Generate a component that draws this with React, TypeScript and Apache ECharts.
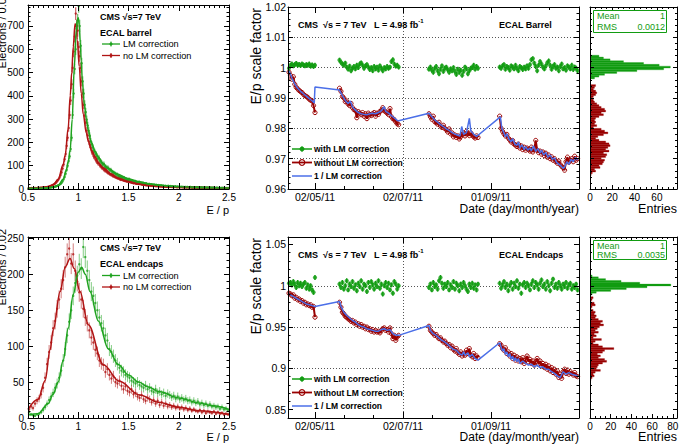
import React, { useEffect, useRef } from "react";
import * as echarts from "echarts";

const FONT = "'Liberation Sans', Arial, Helvetica, sans-serif";
const GREEN = "#129c12";
const RED = "#990000";
const BLUE = "#4b6fe8";
const EP_GREEN = "#1fa31f";
const EP_RED = "#b01414";

// ---------------- E/p distributions (electrons per bin) ----------------
const epLow = 0.5;
const barrelBinWidth = 0.01;
const endcapBinWidth = 0.02;

const barrelWithLM = [
  2, 3, 2, 2, 3, 3, 2, 3, 3, 4,
  3, 3, 4, 3, 4, 4, 5, 4, 5, 5,
  5, 6, 6, 7, 8, 8, 9, 11, 12, 14,
  16, 19, 22, 27, 33, 42, 52, 66, 82, 100,
  120, 140, 172, 220, 318, 410, 515, 600, 690, 725,
  785, 700, 615, 540, 462, 410, 362, 330, 298, 272,
  250, 228, 205, 192, 178, 165, 160, 150, 142, 130,
  135, 122, 118, 112, 104, 108, 96, 95, 90, 92,
  86, 80, 82, 75, 72, 70, 68, 62, 64, 58,
  56, 54, 52, 50, 48, 49, 45, 44, 42, 40,
  43, 38, 36, 37, 34, 33, 34, 31, 30, 29,
  31, 28, 27, 26, 27, 24, 23, 25, 22, 21,
  22, 20, 21, 19, 18, 19, 17, 18, 16, 17,
  16, 15, 16, 14, 15, 13, 14, 13, 12, 14,
  12, 13, 11, 12, 11, 10, 12, 10, 11, 10,
  10, 9, 10, 9, 9, 8, 9, 8, 9, 8,
  8, 9, 7, 8, 7, 8, 7, 7, 8, 6,
  7, 6, 7, 6, 6, 7, 5, 6, 6, 5,
  6, 5, 5, 6, 5, 5, 4, 5, 5, 4,
  5, 4, 4, 5, 4, 4, 4, 3, 4, 4,
];
const barrelNoLM = [
  3, 2, 3, 4, 3, 3, 4, 4, 3, 5,
  4, 5, 5, 6, 5, 7, 6, 8, 7, 9,
  10, 11, 13, 14, 17, 19, 22, 26, 30, 36,
  42, 50, 60, 72, 88, 105, 128, 150, 185, 220,
  262, 318, 380, 450, 520, 590, 655, 753, 700, 680,
  610, 570, 520, 462, 410, 362, 315, 285, 250, 230,
  205, 190, 176, 160, 152, 140, 135, 125, 118, 112,
  110, 102, 98, 92, 90, 84, 80, 78, 74, 70,
  68, 64, 62, 60, 56, 55, 52, 50, 48, 46,
  45, 42, 40, 41, 38, 36, 35, 34, 32, 33,
  30, 31, 28, 27, 26, 25, 26, 23, 22, 22,
  21, 22, 20, 19, 18, 19, 17, 16, 17, 15,
  16, 15, 14, 15, 13, 14, 13, 12, 13, 12,
  12, 11, 12, 10, 11, 10, 11, 10, 9, 10,
  9, 10, 9, 8, 9, 8, 9, 8, 7, 8,
  8, 7, 8, 7, 7, 6, 7, 6, 7, 6,
  6, 7, 6, 5, 6, 6, 5, 6, 5, 5,
  5, 6, 5, 5, 4, 5, 5, 4, 5, 4,
  4, 5, 4, 4, 5, 4, 3, 4, 4, 3,
  4, 3, 4, 3, 4, 3, 3, 4, 3, 3,
];
const barrelWithLMFit = [
  [0.5, 2], [0.6, 3], [0.7, 5], [0.75, 8], [0.8, 16], [0.85, 42], [0.88, 80], [0.9, 118],
  [0.92, 170], [0.94, 300], [0.96, 520], [0.98, 680], [0.99, 725], [1.0, 735], [1.01, 705],
  [1.02, 630], [1.03, 550], [1.04, 468], [1.06, 365], [1.08, 300], [1.1, 252], [1.13, 200],
  [1.17, 162], [1.2, 136], [1.25, 108], [1.3, 88], [1.38, 66], [1.5, 44], [1.6, 31],
  [1.7, 22], [1.8, 16], [1.9, 12], [2.0, 10], [2.2, 7], [2.5, 4],
];
const barrelNoLMFit = [
  [0.5, 3], [0.6, 5], [0.7, 10], [0.75, 18], [0.8, 42], [0.85, 105], [0.87, 145], [0.9, 262],
  [0.92, 400], [0.935, 500], [0.95, 610], [0.968, 710], [0.98, 695], [0.99, 640], [1.01, 525],
  [1.03, 410], [1.05, 320], [1.08, 240], [1.1, 205], [1.134, 165], [1.17, 138], [1.2, 112],
  [1.25, 90], [1.33, 64], [1.4, 46], [1.5, 32], [1.6, 22], [1.7, 15], [1.8, 11], [1.9, 9],
  [2.0, 8], [2.2, 6], [2.5, 4],
];

const endcapWithLM = [
  8, 5, 4, 3, 5, 6, 8, 11, 15, 20,
  25, 30, 35, 42, 48, 56, 66, 80, 96, 115,
  134, 150, 170, 188, 198, 214, 208, 238, 224, 205,
  192, 176, 170, 160, 150, 140, 132, 125, 115, 108,
  96, 92, 86, 80, 75, 70, 66, 64, 60, 58,
  56, 52, 50, 48, 50, 46, 44, 42, 45, 40,
  42, 38, 36, 40, 35, 37, 33, 35, 31, 34,
  32, 29, 31, 27, 30, 26, 28, 25, 27, 24,
  25, 22, 24, 21, 23, 19, 21, 18, 20, 17,
  19, 16, 17, 15, 16, 13, 15, 12, 13, 11,
];
const endcapNoLM = [
  12, 16, 14, 20, 24, 27, 33, 42, 56, 75,
  92, 105, 125, 135, 152, 165, 180, 192, 210, 228,
  236, 215, 228, 205, 190, 175, 165, 152, 140, 132,
  122, 112, 105, 95, 90, 80, 76, 74, 64, 68,
  60, 55, 58, 50, 48, 52, 45, 40, 44, 38,
  36, 40, 33, 35, 30, 28, 32, 26, 24, 28,
  26, 22, 25, 20, 24, 18, 22, 17, 20, 16,
  18, 15, 17, 14, 16, 13, 15, 12, 14, 11,
  13, 10, 12, 10, 9, 11, 8, 10, 7, 9,
  8, 7, 9, 6, 8, 6, 7, 5, 6, 5,
];
const endcapWithLMFit = [
  [0.5, 4], [0.6, 6], [0.7, 20], [0.75, 33], [0.8, 50], [0.85, 80], [0.9, 125], [0.95, 172],
  [1.0, 203], [1.034, 210], [1.07, 200], [1.117, 176], [1.2, 135], [1.3, 96], [1.4, 74],
  [1.5, 60], [1.6, 50], [1.7, 43], [1.8, 37], [2.0, 28], [2.2, 21], [2.34, 17], [2.5, 12],
];
const endcapNoLMFit = [
  [0.5, 12], [0.6, 26], [0.67, 52], [0.72, 95], [0.75, 122], [0.82, 176], [0.87, 210],
  [0.918, 222], [0.96, 208], [1.017, 176], [1.1, 130], [1.25, 74], [1.41, 51], [1.61, 32],
  [1.8, 22], [2.0, 15], [2.2, 10], [2.5, 5],
];

// ---------------- E/p scale versus time (day of year 2011, one value per day) ----------------
const periodStartDays = [104, 139, 201, 250];

const barrelScaleNoLM = [
  [0.9985, 0.9975, 0.9962, 0.9970, 0.9945, 0.9935, 0.9930, 0.9925, 0.9921, 0.9918, 0.9912, 0.9908, 0.9905,
    0.9902, 0.9896, 0.9893, 0.9890, 0.9875, 0.9852],
  [0.9932, 0.9922, 0.9905, 0.9900, 0.9888, 0.9890, 0.9880, 0.9875, 0.9882, 0.9868, 0.9862, 0.9858, 0.9835,
    0.9855, 0.9850, 0.9845, 0.9852, 0.9840, 0.9848, 0.9832, 0.9850, 0.9845, 0.9842, 0.9848, 0.9852, 0.9840,
    0.9850, 0.9846, 0.9855, 0.9860, 0.9868, 0.9858, 0.9855, 0.9850, 0.9845, 0.9865, 0.9838, 0.9832, 0.9828,
    0.9822, 0.9815, 0.9812],
  [0.9848, 0.9838, 0.9830, 0.9840, 0.9822, 0.9818, 0.9814, 0.9820, 0.9808, 0.9803, 0.9810, 0.9800, 0.9795,
    0.9788, 0.9798, 0.9782, 0.9785, 0.9772, 0.9778, 0.9770, 0.9775, 0.9765, 0.9772, 0.9780, 0.9785, 0.9775,
    0.9790, 0.9782, 0.9776, 0.9785, 0.9778, 0.9772, 0.9768, 0.9775, 0.9770],
  [0.9840, 0.9800, 0.9790, 0.9782, 0.9775, 0.9780, 0.9768, 0.9762, 0.9755, 0.9760, 0.9748, 0.9745, 0.9740,
    0.9748, 0.9735, 0.9742, 0.9730, 0.9738, 0.9728, 0.9735, 0.9730, 0.9725, 0.9738, 0.9722, 0.9730, 0.9760,
    0.9728, 0.9720, 0.9725, 0.9715, 0.9722, 0.9710, 0.9718, 0.9705, 0.9712, 0.9700, 0.9706, 0.9695, 0.9700,
    0.9690, 0.9685, 0.9692, 0.9680, 0.9675, 0.9670, 0.9662, 0.9690, 0.9705, 0.9688, 0.9695, 0.9700, 0.9690,
    0.9708, 0.9695, 0.9700],
];
const barrelScaleLM = [
  [0.9998, 1.0008, 1.0012, 1.0006, 1.0010, 1.0014, 1.0008, 1.0011, 1.0007, 1.0012, 1.0009, 1.0006, 1.0010,
    1.0008, 1.0012, 1.0005, 1.0009, 1.0004, 1.0008],
  [1.0025, 1.0018, 1.0012, 1.0008, 1.0015, 1.0002, 0.9995, 1.0005, 0.9990, 0.9998, 1.0004, 0.9996, 1.0008,
    1.0000, 1.0012, 1.0016, 1.0008, 0.9998, 1.0006, 1.0010, 1.0002, 0.9994, 1.0000, 0.9990, 1.0004, 0.9996,
    1.0002, 0.9992, 1.0006, 0.9998, 0.9990, 1.0000, 0.9996, 1.0004, 0.9998, 1.0002, 1.0020, 1.0026, 1.0012,
    1.0005, 1.0008, 1.0002],
  [0.9995, 1.0002, 0.9992, 0.9985, 0.9998, 1.0004, 0.9990, 0.9980, 0.9995, 1.0006, 0.9988, 0.9998, 1.0002,
    0.9993, 0.9985, 0.9996, 0.9990, 1.0000, 0.9988, 0.9978, 0.9995, 0.9985, 0.9992, 0.9975, 0.9988, 1.0002,
    0.9996, 0.9980, 0.9990, 0.9998, 1.0000, 1.0008, 0.9995, 1.0004, 0.9998],
  [1.0002, 0.9998, 1.0006, 1.0010, 0.9995, 1.0004, 1.0000, 0.9992, 1.0006, 1.0002, 0.9996, 1.0008, 0.9998,
    0.9990, 1.0004, 1.0000, 0.9994, 1.0002, 0.9996, 1.0006, 0.9998, 1.0010, 1.0026, 1.0030, 1.0015, 1.0004,
    0.9990, 1.0008, 1.0020, 1.0012, 1.0002, 0.9996, 1.0006, 1.0016, 1.0022, 1.0008, 0.9995, 1.0004, 1.0010,
    0.9998, 1.0002, 0.9990, 1.0004, 1.0012, 0.9996, 1.0000, 0.9992, 1.0006, 1.0002, 0.9996, 1.0008, 0.9994,
    1.0002, 0.9998, 0.9990],
];
const barrelInvLM = [
  [104, 0.9990], [106, 0.9966], [108, 0.9946], [110, 0.9932], [112, 0.9922], [114, 0.9914], [116, 0.9906],
  [118, 0.9898], [120, 0.9891], [121.5, 0.9884], [122, 0.9936], [139, 0.9926], [141, 0.9908], [143, 0.9892],
  [145, 0.9882], [146.5, 0.9890], [148, 0.9870], [150, 0.9860], [152, 0.9852], [154, 0.9848], [156, 0.9846],
  [158, 0.9845], [160, 0.9848], [162, 0.9850], [164, 0.9848], [166, 0.9852], [168, 0.9858], [170, 0.9871],
  [171, 0.9856], [173, 0.9850], [175, 0.9842], [177, 0.9834], [179, 0.9826], [180, 0.9825], [201, 0.9850],
  [203, 0.9838], [205, 0.9828], [207, 0.9820], [209, 0.9812], [211, 0.9806], [213, 0.9798], [215, 0.9793],
  [217, 0.9786], [219, 0.9781], [221, 0.9777], [222.5, 0.9775], [223.7, 0.9806], [225, 0.9780], [227, 0.9786],
  [229, 0.9833], [230, 0.9792], [232, 0.9780], [234, 0.9773], [250.5, 0.9838], [251.5, 0.9800], [253, 0.9785],
  [254, 0.9772], [255, 0.9782], [256.5, 0.9764], [258, 0.9756], [259, 0.9766], [260.5, 0.9748], [262, 0.9744],
  [263, 0.9755], [264, 0.9736], [265.5, 0.9745], [267, 0.9730], [268, 0.9740], [269.5, 0.9728], [271, 0.9735],
  [272, 0.9726], [273.5, 0.9742], [275, 0.9724], [276.5, 0.9733], [278, 0.9718], [279, 0.9728], [280.5, 0.9712],
  [282, 0.9720], [283.5, 0.9705], [285, 0.9712], [286.5, 0.9698], [288, 0.9703], [289.5, 0.9688], [291, 0.9682],
  [292.5, 0.9676], [294, 0.9668], [295, 0.9672], [296.5, 0.9690], [298, 0.9682], [299.5, 0.9698], [301, 0.9690],
  [302.5, 0.9704], [304, 0.9696],
];

const endcapScaleNoLM = [
  [0.991, 0.990, 0.988, 0.989, 0.985, 0.986, 0.983, 0.984, 0.981, 0.982, 0.979, 0.980, 0.977, 0.978, 0.976,
    0.977, 0.974, 0.975, 0.962],
  [0.980, 0.974, 0.968, 0.966, 0.963, 0.962, 0.960, 0.959, 0.957, 0.958, 0.955, 0.956, 0.953, 0.954, 0.951,
    0.953, 0.950, 0.951, 0.948, 0.950, 0.947, 0.948, 0.945, 0.947, 0.944, 0.946, 0.944, 0.945, 0.943, 0.946,
    0.948, 0.949, 0.946, 0.947, 0.944, 0.949, 0.942, 0.936, 0.940, 0.934, 0.938, 0.940],
  [0.951, 0.946, 0.944, 0.942, 0.940, 0.941, 0.938, 0.936, 0.937, 0.934, 0.932, 0.933, 0.930, 0.928, 0.929,
    0.925, 0.927, 0.923, 0.921, 0.924, 0.919, 0.917, 0.920, 0.915, 0.918, 0.916, 0.922, 0.918, 0.924, 0.916,
    0.914, 0.918, 0.912, 0.915, 0.913],
  [0.930, 0.928, 0.924, 0.922, 0.925, 0.918, 0.920, 0.915, 0.918, 0.912, 0.916, 0.910, 0.914, 0.909, 0.912,
    0.908, 0.913, 0.906, 0.910, 0.915, 0.908, 0.911, 0.906, 0.909, 0.904, 0.908, 0.912, 0.905, 0.909, 0.903,
    0.906, 0.901, 0.905, 0.899, 0.903, 0.897, 0.901, 0.895, 0.899, 0.893, 0.897, 0.889, 0.893, 0.888, 0.896,
    0.899, 0.894, 0.898, 0.893, 0.896, 0.894, 0.892, 0.895, 0.891, 0.890],
];
const endcapScaleLM = [
  [1.003, 1.004, 1.001, 1.005, 1.002, 0.998, 1.004, 1.000, 1.003, 0.999, 1.002, 1.004, 0.997, 1.001, 0.996,
    1.000, 0.995, 0.992, 1.010],
  [1.002, 0.998, 1.004, 0.996, 1.000, 1.006, 0.995, 1.002, 0.999, 1.005, 0.997, 1.001, 0.994, 1.003, 0.999,
    1.006, 0.996, 1.002, 1.000, 0.993, 1.004, 0.998, 1.005, 1.001, 0.996, 1.003, 0.999, 1.006, 0.997, 1.002,
    0.990, 1.000, 1.004, 0.998, 1.003, 0.995, 1.001, 0.991, 1.005, 1.002, 0.996, 1.000],
  [0.998, 1.002, 0.995, 1.004, 0.999, 1.001, 0.996, 1.006, 1.010, 1.003, 0.997, 1.002, 0.999, 1.004, 0.995,
    1.001, 0.998, 1.005, 0.996, 1.003, 1.000, 0.994, 1.002, 0.998, 1.004, 1.000, 0.996, 0.993, 1.002, 0.998,
    1.003, 0.997, 1.001, 0.995, 1.002],
  [1.003, 0.997, 1.001, 1.005, 0.998, 1.002, 0.994, 1.000, 1.004, 0.996, 1.003, 0.999, 1.006, 0.997, 1.002,
    0.991, 1.001, 1.004, 0.998, 1.003, 1.000, 0.995, 1.002, 1.006, 0.998, 1.004, 1.001, 0.996, 1.003, 1.007,
    0.999, 1.002, 0.996, 1.005, 1.000, 0.994, 1.003, 1.008, 0.998, 1.002, 0.997, 1.004, 1.000, 0.996, 1.002,
    0.999, 1.004, 0.997, 1.001, 1.003, 0.996, 1.000, 0.998, 1.002, 0.995],
];
const endcapInvLM = [
  [104, 0.990], [106, 0.988], [108, 0.986], [110, 0.984], [112, 0.982], [114, 0.980], [116, 0.978],
  [118, 0.977], [120, 0.976], [122, 0.975], [139, 0.981], [140, 0.975], [142, 0.968], [144, 0.964],
  [146, 0.961], [148, 0.958], [150, 0.956], [152, 0.953], [154, 0.951], [156, 0.950], [158, 0.948],
  [160, 0.947], [162, 0.946], [164, 0.945], [166, 0.945], [168, 0.947], [170, 0.948], [172, 0.946],
  [174, 0.947], [176, 0.942], [178, 0.940], [180, 0.940], [201, 0.952], [202, 0.946], [204, 0.942],
  [206, 0.940], [208, 0.937], [210, 0.934], [212, 0.932], [214, 0.929], [216, 0.926], [218, 0.923],
  [220, 0.922], [222, 0.918], [224, 0.916], [225, 0.920], [226, 0.916], [228, 0.919], [229, 0.914],
  [231, 0.917], [233, 0.912], [235, 0.910], [250, 0.931], [251, 0.926], [252, 0.921], [253, 0.924],
  [254, 0.917], [255, 0.920], [256, 0.914], [257, 0.918], [258, 0.911], [259, 0.915], [260, 0.909],
  [261, 0.913], [262, 0.908], [263, 0.912], [264, 0.906], [266, 0.909], [268, 0.906], [270, 0.904],
  [272, 0.905], [274, 0.902], [276, 0.904], [278, 0.901], [280, 0.902], [282, 0.899], [284, 0.899],
  [286, 0.896], [288, 0.894], [290, 0.891], [292, 0.889], [294, 0.896], [296, 0.893], [298, 0.895],
  [300, 0.893], [302, 0.892], [304, 0.891],
];
const barrelScaleErr = 0.0008;
const endcapScaleErr = 0.003;

const dateTickDays = [122, 183, 244];
const dateTickLabels = ["02/05/11", "02/07/11", "01/09/11"];
const endcapScaleTicks = [0.85, 0.9, 0.95, 1, 1.05];

// ---------------- projections of the scale factors (entries per bin) ----------------
const barrelProjBinWidth = 0.0006;
const barrelProjLMStart = 0.9963;
const barrelProjLM = [4, 8, 13, 24, 42, 66, 72, 62, 48, 30, 18, 12, 8];
const barrelProjNoLMStart = 0.9644;
const barrelProjNoLM = [
  1, 2, 5, 4, 9, 8, 11, 12, 13, 10, 14, 15, 12, 17, 14, 16, 18, 17, 14, 8, 5, 7, 12, 16, 13,
  10, 3, 6, 4, 5, 4, 5, 8, 12, 10, 14, 13, 10, 8, 6, 4, 3, 2, 3, 5, 6, 5, 3, 4, 5,
];
const endcapProjBinWidth = 0.0022;
const endcapProjLMStart = 0.9888;
const endcapProjLM = [2, 6, 20, 35, 55, 78, 48, 30, 15, 8, 2];
const endcapProjNoLMStart = 0.8855;
const endcapProjNoLM = [
  1, 2, 4, 3, 5, 10, 6, 7, 8, 12, 16, 14, 8, 10, 7, 12, 14, 23, 12, 8, 3, 5, 11, 3,
  6, 4, 8, 5, 7, 9, 13, 10, 12, 8, 5, 6, 4, 5, 3, 1, 2, 5, 4, 1, 2, 3,
];
const statLabels = ["Mean", "RMS"];
const barrelStatValues = ["1", "0.0012"];
const endcapStatValues = ["1", "0.0035"];

// ---------------- helpers ----------------
const fmtNum = (v: number) => String(parseFloat(v.toFixed(6)));

function binPoints(counts: number[], width: number) {
  return counts.map((n, i) => [epLow + (i + 0.5) * width, n]);
}
function binErrors(counts: number[], width: number) {
  return counts
    .map((n, i) => [epLow + (i + 0.5) * width, n - Math.sqrt(n), n + Math.sqrt(n)])
    .filter((d) => d[2] > d[1]);
}
function periodLine(periods: number[][]) {
  const out: any[] = [];
  periods.forEach((vals, k) => {
    vals.forEach((v, j) => out.push([periodStartDays[k] + j, v]));
    if (k < periods.length - 1) out.push([periodStartDays[k] + vals.length, null]);
  });
  return out;
}
function periodPoints(periods: number[][]) {
  return periodLine(periods).filter((d) => d[1] !== null);
}
function projBins(start: number, width: number, counts: number[]) {
  return counts.map((n, i) => [start + i * width, start + (i + 1) * width, n]);
}

function verticalBars(color: string, width: number, opacity: number) {
  return (params: any, api: any) => {
    const a = api.coord([api.value(0), api.value(1)]);
    const b = api.coord([api.value(0), api.value(2)]);
    return {
      type: "line",
      shape: { x1: a[0], y1: a[1], x2: b[0], y2: b[1] },
      style: { stroke: color, lineWidth: width, opacity },
    };
  };
}
function horizontalBins(color: string) {
  return (params: any, api: any) => {
    const top = api.coord([0, api.value(1)]);
    const bottom = api.coord([api.value(2), api.value(0)]);
    return {
      type: "rect",
      shape: { x: top[0], y: top[1], width: bottom[0] - top[0], height: bottom[1] - top[1] },
      style: { fill: color, stroke: color, lineWidth: 0.3 },
    };
  };
}

type AxisCfg = {
  min: number;
  max: number;
  interval?: number;
  minorSplit?: number;
  major?: number[];
  minor?: number[];
  labels?: boolean;
  labelMax?: number;
  labelSize?: number;
  margin?: number;
  formatter?: (v: number) => string;
  grid?: boolean;
  tickLen: number;
  minorLen: number;
};

function buildOption() {
  const xAxes: any[] = [];
  const yAxes: any[] = [];
  const lineStyle = { color: "#000", width: 1 };

  // Frame line + ticks on both sides of a grid, plus one label/grid axis
  const addAxes = (dim: "x" | "y", gridIndex: number, cfg: AxisCfg) => {
    const list = dim === "x" ? xAxes : yAxes;
    const sides = dim === "x" ? ["bottom", "top"] : ["left", "right"];
    const common = {
      type: "value",
      gridIndex,
      min: cfg.min,
      max: cfg.max,
      silent: true,
      axisPointer: { show: false },
      minorSplitLine: { show: false },
    };
    const step = cfg.interval ? { interval: cfg.interval } : {};
    let mainIndex = -1;
    sides.forEach((position, k) => {
      list.push({
        ...common,
        ...step,
        position,
        z: 10,
        axisLine: { show: true, onZero: false, lineStyle },
        axisTick: {
          show: true,
          inside: true,
          length: cfg.tickLen,
          lineStyle,
          ...(cfg.major ? { customValues: cfg.major } : {}),
        },
        minorTick: { show: !!cfg.minorSplit, splitNumber: cfg.minorSplit || 5, length: cfg.minorLen, lineStyle },
        axisLabel: { show: false },
        splitLine: { show: false },
      });
      if (cfg.minor) {
        list.push({
          ...common,
          position,
          z: 10,
          axisLine: { show: false, onZero: false },
          axisTick: { show: true, inside: true, length: cfg.minorLen, lineStyle, customValues: cfg.minor },
          minorTick: { show: false },
          axisLabel: { show: false },
          splitLine: { show: false },
        });
      }
      if (k === 0) {
        mainIndex = list.length;
        list.push({
          ...common,
          ...step,
          position,
          z: 0,
          axisLine: { show: false, onZero: false },
          axisTick: { show: false, ...(cfg.major ? { customValues: cfg.major } : {}) },
          minorTick: { show: false },
          axisLabel: {
            show: !!cfg.labels,
            color: "#000",
            fontFamily: FONT,
            fontSize: cfg.labelSize || 10,
            margin: cfg.margin ?? 3,
            hideOverlap: false,
            ...(cfg.major ? { customValues: cfg.major } : {}),
            formatter: (v: number) => {
              if (cfg.labelMax !== undefined && v > cfg.labelMax + 1e-9) return "";
              return cfg.formatter ? cfg.formatter(v) : fmtNum(v);
            },
          },
          splitLine: {
            show: !!cfg.grid,
            showMinLine: false,
            showMaxLine: false,
            lineStyle: { color: "#555", width: 1, type: [1, 2] },
          },
        });
      }
    });
    return mainIndex;
  };

  const grids = [
    { left: 28, top: 5, width: 201, height: 184 },
    { left: 28, top: 237, width: 201, height: 181 },
    { left: 288, top: 7, width: 291, height: 182 },
    { left: 288, top: 237, width: 291, height: 181 },
    { left: 590, top: 7, width: 87, height: 182 },
    { left: 590, top: 237, width: 87, height: 181 },
  ].map((g) => ({ ...g, show: false, containLabel: false, outerBoundsMode: "none" }));

  const dayMin = 103.3;
  const dayMax = 305;
  const dateMinor: number[] = [];
  for (let d = dateTickDays[0] - 61 / 3; d < dayMax; d += 61 / 3) {
    if (d > dayMin && !dateTickDays.some((t) => Math.abs(t - d) < 0.5)) dateMinor.push(d);
  }
  const endcapMinor: number[] = [];
  for (let i = 84; i <= 105; i++) {
    const v = i / 100;
    if (!endcapScaleTicks.some((t) => Math.abs(t - v) < 1e-6)) endcapMinor.push(v);
  }
  const dateFmt = (v: number) => {
    const i = dateTickDays.findIndex((t) => Math.abs(t - v) < 0.01);
    return i >= 0 ? dateTickLabels[i] : "";
  };

  const epX = { min: 0.5, max: 2.5, interval: 0.5, minorSplit: 10, labels: true, labelSize: 10, margin: 3, tickLen: 6, minorLen: 3 };
  const x0 = addAxes("x", 0, epX);
  const y0 = addAxes("y", 0, { min: 0, max: 790, interval: 100, minorSplit: 5, labels: true, labelMax: 700, labelSize: 10, margin: 4, tickLen: 5, minorLen: 2.5 });
  const x1 = addAxes("x", 1, epX);
  const y1 = addAxes("y", 1, { min: 0, max: 252, interval: 50, minorSplit: 5, labels: true, labelMax: 250, labelSize: 10, margin: 4, tickLen: 5, minorLen: 2.5 });

  const dateX = { min: dayMin, max: dayMax, major: dateTickDays, minor: dateMinor, labels: true, labelSize: 10.5, margin: 2, formatter: dateFmt, grid: true, tickLen: 6, minorLen: 3 };
  const x2 = addAxes("x", 2, dateX);
  const y2 = addAxes("y", 2, { min: 0.96, max: 1.02, interval: 0.01, minorSplit: 5, labels: true, labelSize: 10.5, margin: 2, grid: true, tickLen: 5, minorLen: 2.5 });
  const x3 = addAxes("x", 3, dateX);
  const y3 = addAxes("y", 3, { min: 0.84, max: 1.059, major: endcapScaleTicks, minor: endcapMinor, labels: true, labelSize: 10.5, margin: 2, grid: true, tickLen: 5, minorLen: 2.5 });

  const x4 = addAxes("x", 4, { min: 0, max: 78, interval: 20, minorSplit: 4, labels: true, labelMax: 60, labelSize: 10, margin: 3, tickLen: 4, minorLen: 2 });
  const y4 = addAxes("y", 4, { min: 0.96, max: 1.02, interval: 0.01, minorSplit: 5, labels: false, tickLen: 4, minorLen: 2 });
  const x5 = addAxes("x", 5, { min: 0, max: 84, interval: 20, minorSplit: 4, labels: true, labelMax: 80, labelSize: 10, margin: 3, tickLen: 4, minorLen: 2 });
  const y5 = addAxes("y", 5, { min: 0.84, max: 1.059, major: endcapScaleTicks, minor: endcapMinor, labels: false, tickLen: 4, minorLen: 2 });

  const series: any[] = [];

  // E/p panels: error bars, points and fitted curve for both corrections
  const epPanel = (xi: number, yi: number, counts: number[], width: number, fit: number[][], color: string, barOpacity: number) => {
    series.push({
      type: "custom",
      xAxisIndex: xi,
      yAxisIndex: yi,
      clip: true,
      silent: true,
      z: 2,
      data: binErrors(counts, width),
      encode: { x: 0, y: [1, 2] },
      renderItem: verticalBars(color, 1, barOpacity),
    });
    series.push({
      type: "scatter",
      xAxisIndex: xi,
      yAxisIndex: yi,
      silent: true,
      z: 3,
      symbol: "circle",
      symbolSize: 2.4,
      itemStyle: { color },
      data: binPoints(counts, width),
    });
    series.push({
      type: "line",
      xAxisIndex: xi,
      yAxisIndex: yi,
      silent: true,
      z: 4,
      smooth: 0.35,
      smoothMonotone: "x",
      symbol: "none",
      lineStyle: { color, width: 1.5 },
      data: fit,
    });
  };
  epPanel(x0, y0, barrelNoLM, barrelBinWidth, barrelNoLMFit, EP_RED, 0.8);
  epPanel(x0, y0, barrelWithLM, barrelBinWidth, barrelWithLMFit, EP_GREEN, 0.8);
  epPanel(x1, y1, endcapNoLM, endcapBinWidth, endcapNoLMFit, EP_RED, 0.55);
  epPanel(x1, y1, endcapWithLM, endcapBinWidth, endcapWithLMFit, EP_GREEN, 0.55);

  // scale-versus-time panels
  const timePanel = (xi: number, yi: number, noLM: number[][], withLM: number[][], invLM: number[][], err: number) => {
    series.push({
      type: "line",
      xAxisIndex: xi,
      yAxisIndex: yi,
      silent: true,
      z: 2,
      connectNulls: false,
      symbol: "circle",
      symbolSize: 4.2,
      showSymbol: true,
      lineStyle: { color: RED, width: 2 },
      itemStyle: { color: "rgba(0,0,0,0)", borderColor: RED, borderWidth: 1 },
      data: periodLine(noLM),
    });
    series.push({
      type: "line",
      xAxisIndex: xi,
      yAxisIndex: yi,
      silent: true,
      z: 3,
      symbol: "none",
      lineStyle: { color: BLUE, width: 1.5 },
      data: invLM,
    });
    series.push({
      type: "custom",
      xAxisIndex: xi,
      yAxisIndex: yi,
      clip: true,
      silent: true,
      z: 4,
      data: periodPoints(withLM).map((d) => [d[0], d[1] - err, d[1] + err]),
      encode: { x: 0, y: [1, 2] },
      renderItem: verticalBars(GREEN, 1.4, 1),
    });
    series.push({
      type: "scatter",
      xAxisIndex: xi,
      yAxisIndex: yi,
      silent: true,
      z: 5,
      symbol: "circle",
      symbolSize: 4.2,
      itemStyle: { color: GREEN },
      data: periodPoints(withLM),
    });
  };
  timePanel(x2, y2, barrelScaleNoLM, barrelScaleLM, barrelInvLM, barrelScaleErr);
  timePanel(x3, y3, endcapScaleNoLM, endcapScaleLM, endcapInvLM, endcapScaleErr);

  // projections
  const projPanel = (xi: number, yi: number, data: number[][], color: string) => {
    series.push({
      type: "custom",
      xAxisIndex: xi,
      yAxisIndex: yi,
      clip: true,
      silent: true,
      z: 2,
      data,
      encode: { x: 2, y: [0, 1] },
      renderItem: horizontalBins(color),
    });
  };
  projPanel(x4, y4, projBins(barrelProjNoLMStart, barrelProjBinWidth, barrelProjNoLM), RED);
  projPanel(x4, y4, projBins(barrelProjLMStart, barrelProjBinWidth, barrelProjLM), GREEN);
  projPanel(x5, y5, projBins(endcapProjNoLMStart, endcapProjBinWidth, endcapProjNoLM), RED);
  projPanel(x5, y5, projBins(endcapProjLMStart, endcapProjBinWidth, endcapProjLM), GREEN);

  // ---------------- annotations ----------------
  const g: any[] = [];
  const text = (x: number, y: number, s: string, o: any = {}) => {
    g.push({
      type: "text",
      x,
      y,
      rotation: o.rot || 0,
      silent: true,
      z: 100,
      style: {
        text: s,
        fill: o.fill || "#000",
        fontSize: o.size || 10,
        fontWeight: o.bold ? "bold" : "normal",
        fontFamily: FONT,
        align: o.align || "left",
        textAlign: o.align || "left",
        verticalAlign: "middle",
        textVerticalAlign: "middle",
        ...(o.rich ? { rich: o.rich, lineHeight: 14 } : {}),
      },
    });
  };
  const seg = (x1: number, y1: number, x2: number, y2: number, color: string, w: number) =>
    g.push({ type: "line", silent: true, z: 100, shape: { x1, y1, x2, y2 }, style: { stroke: color, lineWidth: w } });
  const dot = (cx: number, cy: number, r: number, fill: string, stroke: string, w = 1) =>
    g.push({ type: "circle", silent: true, z: 101, shape: { cx, cy, r }, style: { fill, stroke, lineWidth: w } });

  // axis titles
  text(229, 210, "E / p", { size: 11, align: "right" });
  text(229, 437, "E / p", { size: 11, align: "right" });
  text(1.5, -8, "Electrons / 0.01", { size: 11, align: "right", rot: Math.PI / 2 });
  text(1.5, 229, "Electrons / 0.02", { size: 11, align: "right", rot: Math.PI / 2 });
  text(579, 209, "Date (day/month/year)", { size: 12, align: "right" });
  text(579, 437, "Date (day/month/year)", { size: 12, align: "right" });
  text(256, 8, "E/p scale factor", { size: 14, align: "right", rot: Math.PI / 2 });
  text(256, 238, "E/p scale factor", { size: 14, align: "right", rot: Math.PI / 2 });
  text(677, 209, "Entries", { size: 12.5, align: "right" });
  text(677, 437, "Entries", { size: 12.5, align: "right" });

  // E/p panel labels and legends
  const epLegend = (top: number, region: string) => {
    text(100, top, "CMS \u221As=7 TeV", { size: 9, bold: true });
    text(100, top + 16, region, { size: 9, bold: true });
    const rows: [string, string][] = [["LM correction", EP_GREEN], ["no LM correction", EP_RED]];
    rows.forEach(([label, color], i) => {
      const y = top + 27.5 + i * 11.5;
      seg(102, y, 120, y, color, 1.3);
      seg(111, y - 2.5, 111, y + 2.5, color, 1);
      dot(111, y, 1.3, color, color, 0.5);
      text(123, y, label, { size: 9.2 });
    });
  };
  epLegend(16.5, "ECAL barrel");
  epLegend(248, "ECAL endcaps");

  // scale-versus-time headers and legends
  const timeLabels = (top: number, region: string, legendTop: number) => {
    text(298, top, "CMS  \u221As = 7 TeV   L = 4.98 fb{s|-1}", {
      size: 9,
      bold: true,
      rich: { s: { fontSize: 6, fontWeight: "bold", fontFamily: FONT, verticalAlign: "top", lineHeight: 7, fill: "#000" } },
    });
    text(499, top, region, { size: 9, bold: true });
    const y = legendTop;
    seg(292, y, 312, y, GREEN, 1.5);
    seg(302, y - 2.5, 302, y + 2.5, GREEN, 1.2);
    dot(302, y, 2.2, GREEN, GREEN, 0.5);
    text(314, y, "with LM correction", { size: 8.5, bold: true });
    const y2r = legendTop + 13.5;
    seg(292, y2r, 312, y2r, RED, 1.8);
    dot(302, y2r, 2.8, "none", RED, 1.2);
    text(314, y2r, "without LM correction", { size: 8.5, bold: true });
    const y3r = legendTop + 27;
    seg(292, y3r, 312, y3r, BLUE, 1.5);
    text(314, y3r, "1 / LM correction", { size: 8.5, bold: true });
  };
  timeLabels(25, "ECAL Barrel", 149);
  timeLabels(254.5, "ECAL Endcaps", 379);

  // statistics boxes
  const statBox = (top: number, h: number, rows: number[], values: string[]) => {
    g.push({
      type: "rect",
      silent: true,
      z: 100,
      shape: { x: 593.5, y: top + 0.5, width: 73, height: h },
      style: { fill: "#fff", stroke: GREEN, lineWidth: 1 },
    });
    statLabels.forEach((lab, i) => {
      const y = top + rows[i];
      text(597, y, lab, { size: 9, fill: GREEN });
      text(665, y, values[i], { size: 9, fill: GREEN, align: "right" });
    });
  };
  statBox(10, 22, [6, 16.5], barrelStatValues);
  statBox(240, 19, [5.5, 14.5], endcapStatValues);

  return {
    animation: false,
    backgroundColor: "#fff",
    textStyle: { fontFamily: FONT },
    grid: grids,
    xAxis: xAxes,
    yAxis: yAxes,
    series,
    graphic: { elements: g },
  };
}

export default function App() {
  const ref = useRef<HTMLDivElement>(null);
  useEffect(() => {
    if (!ref.current) return;
    const chart = echarts.init(ref.current, undefined, { renderer: "svg", width: 680, height: 448 });
    chart.setOption(buildOption() as any);
    return () => chart.dispose();
  }, []);
  return (
    <div
      ref={ref}
      style={{ position: "fixed", left: 0, top: 0, width: 680, height: 448, background: "#fff" }}
    />
  );
}
